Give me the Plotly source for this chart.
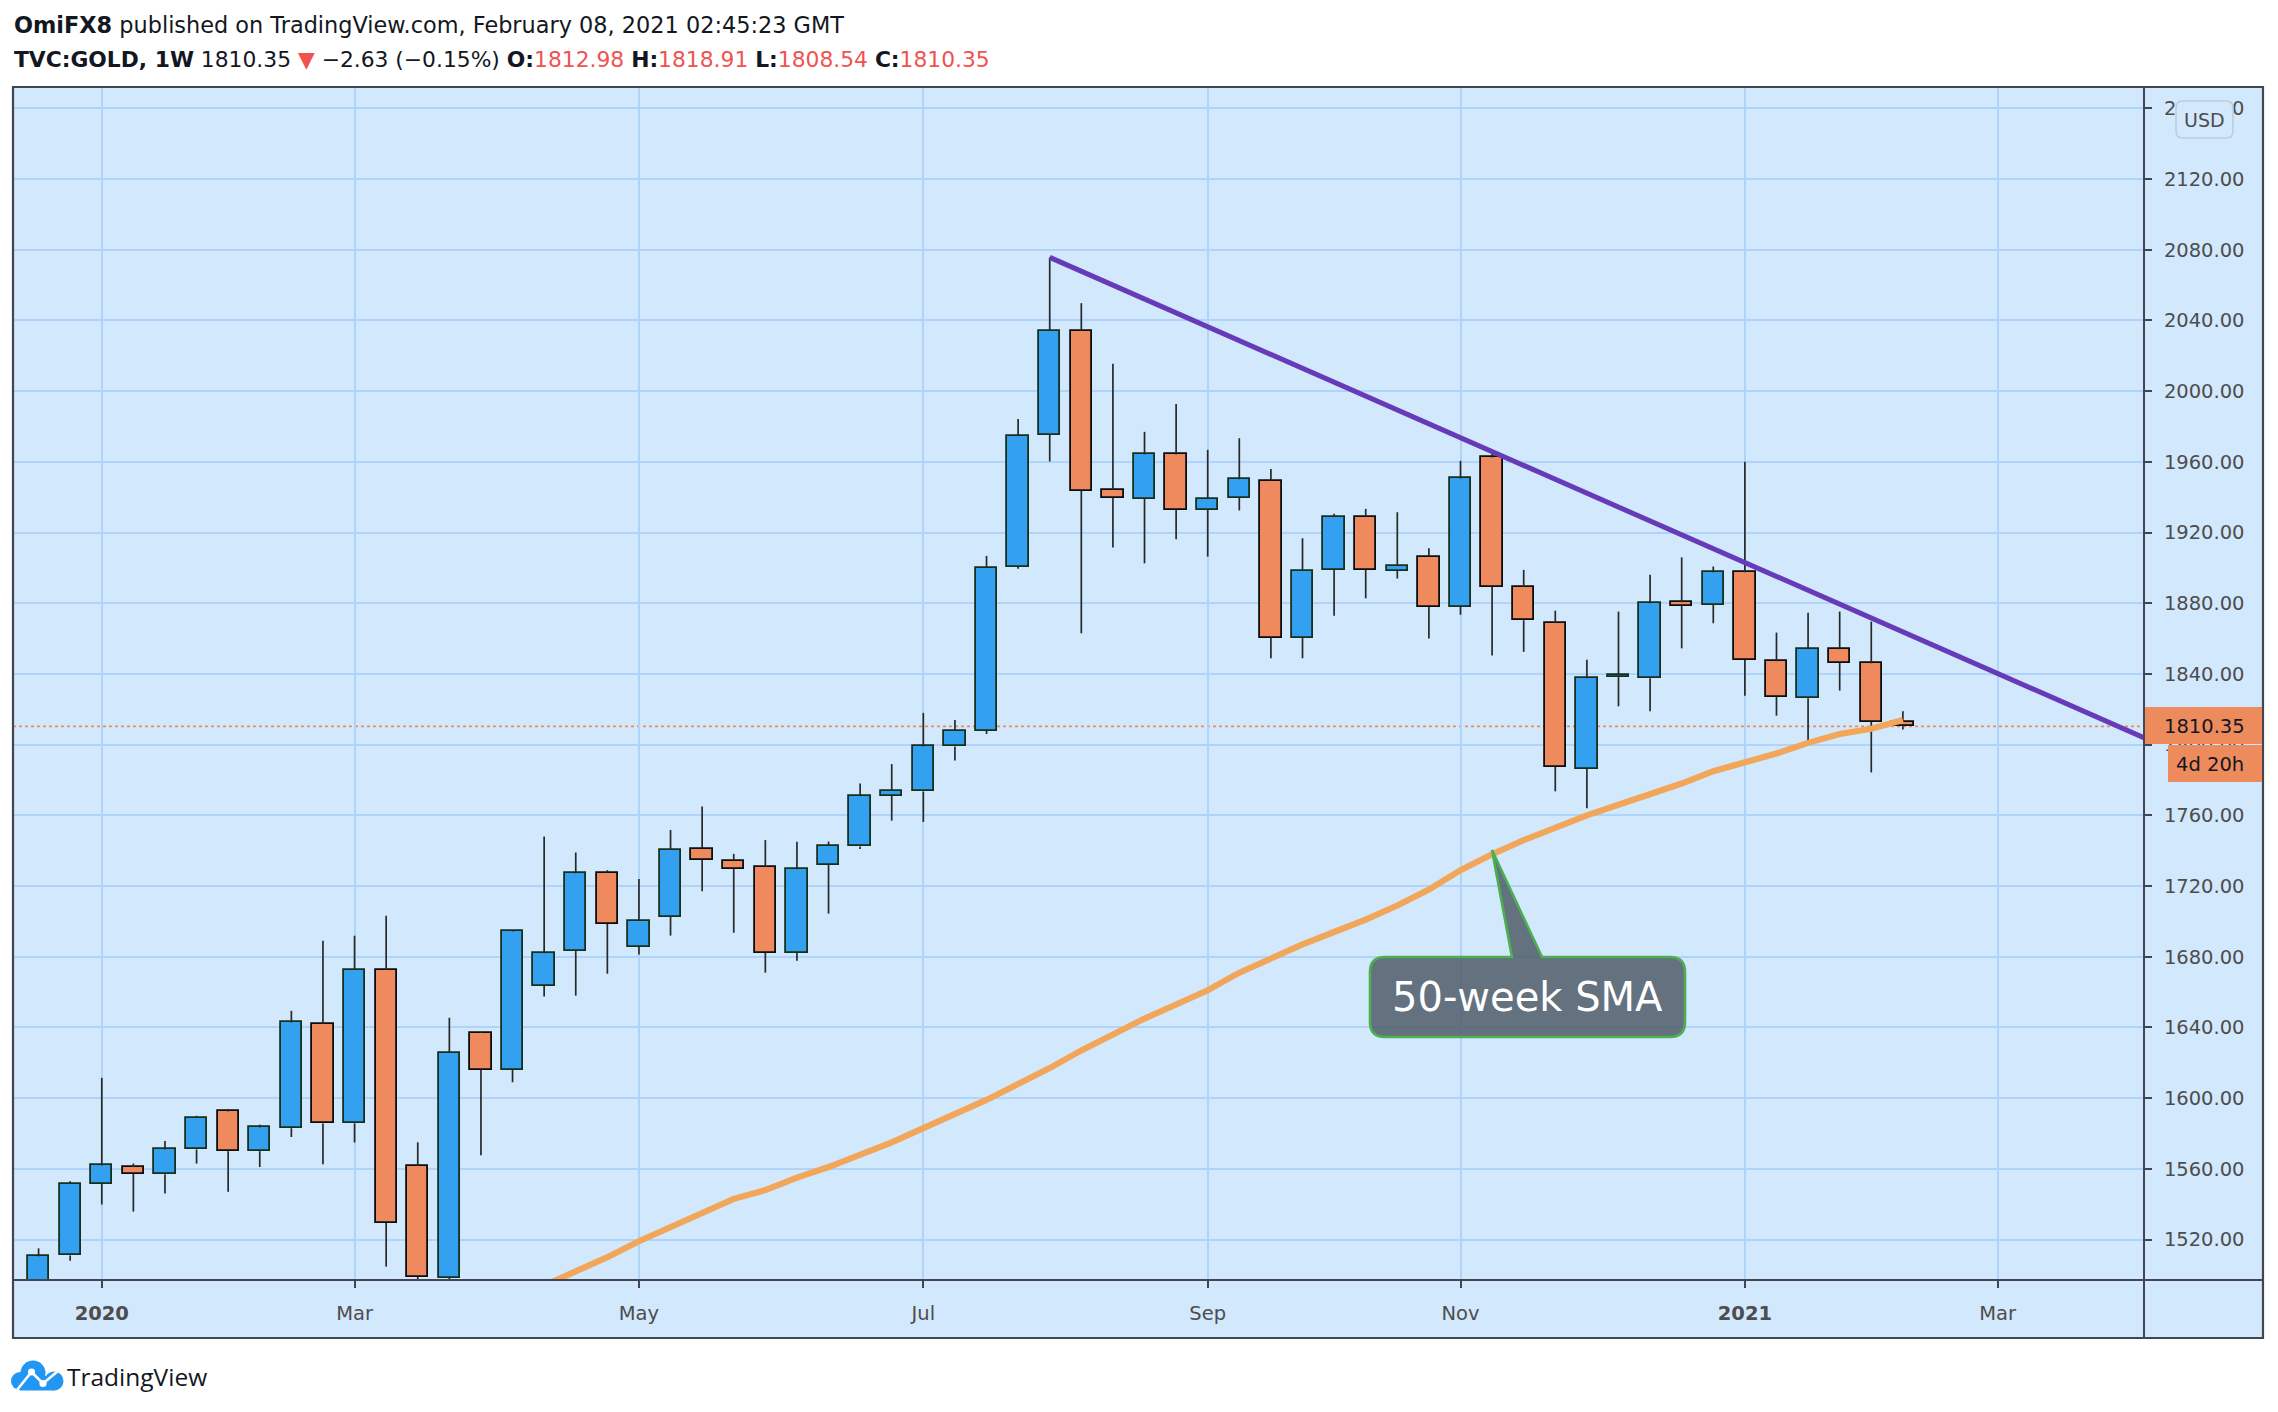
import plotly.graph_objects as go
import pandas as pd

# ---------------- data ----------------
week_start = "2019-12-23"
n_weeks = 60
weeks = pd.date_range(week_start, periods=n_weeks, freq="7D")

opens = [1476, 1511, 1551.5, 1561, 1557, 1571, 1592.5, 1570, 1583, 1642,
         1585.7, 1672.6, 1561.7, 1498.5, 1637, 1616, 1663.6, 1683.4, 1727.6, 1685.5,
         1702.5, 1741.2, 1734.4, 1731, 1682.3, 1732, 1742.4, 1771, 1773.5, 1799,
         1808, 1900.8, 1975.3, 2034.3, 1944.3, 1939.2, 1964.2, 1932.8, 1939.8, 1949.4,
         1860.6, 1898.9, 1929, 1898.5, 1906.4, 1877.9, 1962.5, 1889.4, 1868.8, 1786.2,
         1838.2, 1837.5, 1880.6, 1879.2, 1897.5, 1847.2, 1826.2, 1854, 1846, 1812.98]
highs = [1515, 1553, 1611.5, 1563, 1575.8, 1590, 1593.8, 1585, 1649.4, 1689,
         1691.9, 1703.2, 1575, 1645.5, 1637.5, 1695, 1748, 1739, 1729, 1724,
         1751.7, 1765, 1738.2, 1746, 1745, 1745.2, 1778, 1789, 1818, 1814,
         1906.8, 1984.3, 2075.7, 2049.8, 2015.5, 1977, 1992.8, 1966.8, 1973.4, 1956,
         1916.8, 1930.6, 1933.4, 1931.5, 1911.1, 1960.6, 1965, 1898.9, 1875.8, 1848,
         1875.3, 1896.2, 1906, 1900.8, 1960, 1863.4, 1874.7, 1875.3, 1869.6, 1818.91]
lows = [1474, 1508, 1539.8, 1535.8, 1546, 1563, 1547, 1561, 1578, 1562.6,
        1574.9, 1504.7, 1451, 1482, 1567.7, 1609, 1657.5, 1658, 1670.4, 1681.2,
        1692, 1717, 1693.6, 1671, 1677.8, 1704.4, 1741, 1757, 1756.3, 1791,
        1806, 1899.5, 1960.2, 1863, 1911.5, 1902.6, 1916.2, 1906.4, 1932.5, 1848.9,
        1848.9, 1873, 1882.8, 1894, 1860, 1873.5, 1850.4, 1852.5, 1773.6, 1764,
        1821.7, 1818.9, 1854.5, 1868.7, 1827.7, 1816.4, 1801.9, 1830.6, 1784.3, 1808.54]
closes = [1510.5, 1551.7, 1561.9, 1557.2, 1571, 1589, 1570, 1583.4, 1642.8, 1585.7,
          1672.6, 1529.4, 1499, 1625.8, 1616, 1694.3, 1682, 1727.2, 1698.6, 1700.4,
          1740.6, 1734.8, 1729.7, 1682.3, 1729.5, 1742.9, 1771, 1774, 1799, 1808,
          1900.2, 1974.9, 2034.3, 1943.6, 1939.8, 1964.2, 1932.8, 1939.2, 1950.2, 1860.6,
          1898.5, 1929, 1898.9, 1901.1, 1877.9, 1950.6, 1889.2, 1870.4, 1787.5, 1837.5,
          1839.5, 1880, 1878.7, 1897.5, 1848, 1827.2, 1854, 1846.4, 1813, 1810.35]

sma_first_week = "2020-04-13"
sma50 = [1494, 1502, 1510, 1519, 1527, 1535, 1543, 1548, 1555, 1561,
         1568, 1575, 1583, 1591, 1599, 1608, 1617, 1627, 1636, 1645,
         1653, 1661, 1671, 1679, 1687, 1694, 1701, 1709, 1718, 1729,
         1738, 1746, 1753, 1760, 1766, 1772, 1778, 1785, 1790, 1795,
         1801, 1806, 1809, 1814]

trend_dates = ["2020-08-03", "2021-04-05"]
trend_prices = [2075.7, 1801.0]

tick_dates = ["2020-01-06", "2020-03-02", "2020-05-04", "2020-07-06",
              "2020-09-07", "2020-11-02", "2021-01-04", "2021-03-01"]
tick_labels = ["<b>2020</b>", "Mar", "May", "Jul", "Sep", "Nov", "<b>2021</b>", "Mar"]

# ---------------- style ----------------
BG = "#d2e8fd"
GRID = "#b0d3fa"
FRAME = "#434651"
BLUE = "#33a1ef"
BLUE_EDGE = "#15301c"
ORANGE = "#ee8a5e"
ORANGE_EDGE = "#0d0d0d"
WICK = "#262a26"
SMA_COL = "#f2a65a"
TREND_COL = "#673ab7"
LABEL_COL = "#4d4d4d"
FONT = "DejaVu Sans"

W, H = 2278, 1412
L, R, T, B = 13, 2144, 87, 1280


def fx(X):
    return (X - L) / (R - L)


def fy(Y):
    return (B - Y) / (B - T)


def rrect_path(x0, y0, x1, y1, r, tail=None):
    s = f"M{fx(x0 + r)},{fy(y0)}"
    if tail:
        for (tx, ty) in tail:
            s += f" L{fx(tx)},{fy(ty)}"
    s += f" L{fx(x1 - r)},{fy(y0)} Q{fx(x1)},{fy(y0)} {fx(x1)},{fy(y0 + r)}"
    s += f" L{fx(x1)},{fy(y1 - r)} Q{fx(x1)},{fy(y1)} {fx(x1 - r)},{fy(y1)}"
    s += f" L{fx(x0 + r)},{fy(y1)} Q{fx(x0)},{fy(y1)} {fx(x0)},{fy(y1 - r)}"
    s += f" L{fx(x0)},{fy(y0 + r)} Q{fx(x0)},{fy(y0)} {fx(x0 + r)},{fy(y0)} Z"
    return s


fig = go.Figure()

# wicks (split around the body)
wx, wy = [], []
for d, o, h, l, c in zip(weeks, opens, highs, lows, closes):
    top, bot = max(o, c), min(o, c)
    wx += [d, d, None, d, d, None]
    wy += [h, top, None, bot, l, None]
fig.add_trace(go.Scatter(x=wx, y=wy, mode="lines", line=dict(color=WICK, width=1.7),
                         hoverinfo="skip", showlegend=False))

# bodies
up = [c >= o for o, c in zip(opens, closes)]
week_ms = 7 * 24 * 3600 * 1000
fig.add_trace(go.Bar(
    x=weeks,
    y=[abs(c - o) for o, c in zip(opens, closes)],
    base=[min(o, c) for o, c in zip(opens, closes)],
    width=0.675 * week_ms,
    marker=dict(color=[BLUE if u else ORANGE for u in up],
                line=dict(color=[BLUE_EDGE if u else ORANGE_EDGE for u in up], width=1.8)),
    hoverinfo="skip", showlegend=False))

# 50-week SMA
sma_x = pd.date_range(sma_first_week, periods=len(sma50), freq="7D")
fig.add_trace(go.Scatter(x=sma_x, y=sma50, mode="lines",
                         line=dict(color=SMA_COL, width=6.2), hoverinfo="skip", showlegend=False))

# trend line
fig.add_trace(go.Scatter(x=trend_dates, y=trend_prices, mode="lines",
                         line=dict(color=TREND_COL, width=5), hoverinfo="skip", showlegend=False))

shapes = []
# frame background (price scale + time scale area)
shapes.append(dict(type="rect", xref="paper", yref="paper", x0=fx(13), x1=fx(2263),
                   y0=fy(1338), y1=fy(87), fillcolor=BG, line=dict(width=0), layer="below"))
# last price dotted line
shapes.append(dict(type="line", xref="paper", yref="y", x0=0, x1=1,
                   y0=closes[-1], y1=closes[-1],
                   line=dict(color="#ef8a5a", width=1.6, dash="dot"), layer="between"))
# frame lines
shapes.append(dict(type="rect", xref="paper", yref="paper", x0=fx(13), x1=fx(2263),
                   y0=fy(1338), y1=fy(87), line=dict(color=FRAME, width=2.2), layer="above"))
shapes.append(dict(type="line", xref="paper", yref="paper", x0=fx(2144), x1=fx(2144),
                   y0=fy(1338), y1=fy(87), line=dict(color=FRAME, width=2), layer="above"))
shapes.append(dict(type="line", xref="paper", yref="paper", x0=fx(13), x1=fx(2263),
                   y0=fy(1280), y1=fy(1280), line=dict(color=FRAME, width=2.2), layer="above"))
# price labels on scale
shapes.append(dict(type="rect", xref="paper", yref="paper", x0=fx(2145), x1=fx(2262),
                   y0=fy(744), y1=fy(707), fillcolor="#ee8b5d", line=dict(width=0), layer="above"))
shapes.append(dict(type="rect", xref="paper", yref="paper", x0=fx(2168), x1=fx(2262),
                   y0=fy(782), y1=fy(745), fillcolor="#ee8b5d", line=dict(width=0), layer="above"))
# USD box
shapes.append(dict(type="path", xref="paper", yref="paper",
                   path=rrect_path(2176, 101, 2233, 138, 7),
                   fillcolor=BG, line=dict(color="#c2cbd5", width=1.6), layer="above"))
# callout box
shapes.append(dict(type="path", xref="paper", yref="paper",
                   path=rrect_path(1370, 957, 1685, 1037, 15,
                                   tail=[(1512, 957), (1492, 850), (1542, 957)]),
                   fillcolor="rgba(88,100,113,0.9)", line=dict(color="#4caf50", width=2.6),
                   layer="above"))
# TradingView logo cloud
LOGO = "#2196f3"
for (cx, cy, r) in [(33, 1373, 12.5), (20, 1381, 9), (54, 1381, 9.5)]:
    shapes.append(dict(type="circle", xref="paper", yref="paper",
                       x0=fx(cx - r), x1=fx(cx + r), y0=fy(cy + r), y1=fy(cy - r),
                       fillcolor=LOGO, line=dict(width=0), layer="above"))
shapes.append(dict(type="rect", xref="paper", yref="paper", x0=fx(20), x1=fx(54),
                   y0=fy(1390.5), y1=fy(1376), fillcolor=LOGO, line=dict(width=0), layer="above"))
logo_line = [(17, 1390), (31.5, 1372), (43, 1383.5), (58, 1371)]
p = "M" + " L".join(f"{fx(a)},{fy(b)}" for a, b in logo_line)
shapes.append(dict(type="path", xref="paper", yref="paper", path=p,
                   line=dict(color="white", width=2.6), layer="above"))
for (a, b) in logo_line[1:3]:
    shapes.append(dict(type="circle", xref="paper", yref="paper",
                       x0=fx(a - 3.6), x1=fx(a + 3.6), y0=fy(b + 3.6), y1=fy(b - 3.6),
                       fillcolor="white", line=dict(width=0), layer="above"))

annotations = [
    dict(xref="paper", yref="paper", x=fx(12), y=fy(25), xanchor="left", yanchor="middle",
         showarrow=False, font=dict(family=FONT, size=22.4, color="#131722"),
         text="<b>OmiFX8</b> published on TradingView.com, February 08, 2021 02:45:23 GMT"),
    dict(xref="paper", yref="paper", x=fx(12), y=fy(59), xanchor="left", yanchor="middle",
         showarrow=False, font=dict(family=FONT, size=21.8, color="#131722"),
         text=("<b>TVC:GOLD, 1W</b> 1810.35 <span style='color:#ef5350'>▼</span> −2.63 (−0.15%) "
               "<b>O:</b><span style='color:#ef5350'>1812.98</span> "
               "<b>H:</b><span style='color:#ef5350'>1818.91</span> "
               "<b>L:</b><span style='color:#ef5350'>1808.54</span> "
               "<b>C:</b><span style='color:#ef5350'>1810.35</span>")),
    dict(xref="paper", yref="paper", x=fx(1527.5), y=fy(997), xanchor="center", yanchor="middle",
         showarrow=False, font=dict(family=FONT, size=40, color="white"), text="50-week SMA"),
    dict(xref="paper", yref="paper", x=fx(2162), y=fy(726), xanchor="left", yanchor="middle",
         showarrow=False, font=dict(family=FONT, size=19.5, color="#131722"), text="1810.35"),
    dict(xref="paper", yref="paper", x=fx(2174), y=fy(764), xanchor="left", yanchor="middle",
         showarrow=False, font=dict(family=FONT, size=19.5, color="#131722"), text="4d 20h"),
    dict(xref="paper", yref="paper", x=fx(2204.5), y=fy(120), xanchor="center", yanchor="middle",
         showarrow=False, font=dict(family=FONT, size=19, color=LABEL_COL), text="USD"),
    dict(xref="paper", yref="paper", x=fx(65), y=fy(1376), xanchor="left", yanchor="middle",
         showarrow=False, font=dict(family="Open Sans", size=24.5, color="#131722"), text="TradingView"),
]

fig.update_layout(
    width=W, height=H, autosize=False,
    margin=dict(l=L, r=W - R, t=T, b=H - B, pad=0),
    paper_bgcolor="white", plot_bgcolor=BG,
    showlegend=False, barmode="overlay", bargap=0,
    shapes=shapes, annotations=annotations,
    xaxis=dict(type="date", range=["2019-12-17 08:00", "2021-04-02 10:00"],
               tickmode="array", tickvals=tick_dates, ticktext=tick_labels,
               showgrid=True, gridcolor=GRID, gridwidth=1.5,
               ticks="outside", ticklen=7, tickwidth=1.5, tickcolor=FRAME,
               tickfont=dict(family=FONT, size=19.5, color=LABEL_COL),
               ticklabelstandoff=9,
               showline=False, zeroline=False, fixedrange=True),
    yaxis=dict(range=[1497.1, 2172.1], side="right", tick0=0, dtick=40, tickformat=".2f",
               showgrid=True, gridcolor=GRID, gridwidth=1.5,
               ticks="outside", ticklen=7, tickwidth=1.5, tickcolor=FRAME,
               tickfont=dict(family=FONT, size=19.5, color=LABEL_COL),
               ticklabelstandoff=8,
               showline=False, zeroline=False, fixedrange=True),
)

fig.write_html("out.html", config={"displayModeBar": False})
